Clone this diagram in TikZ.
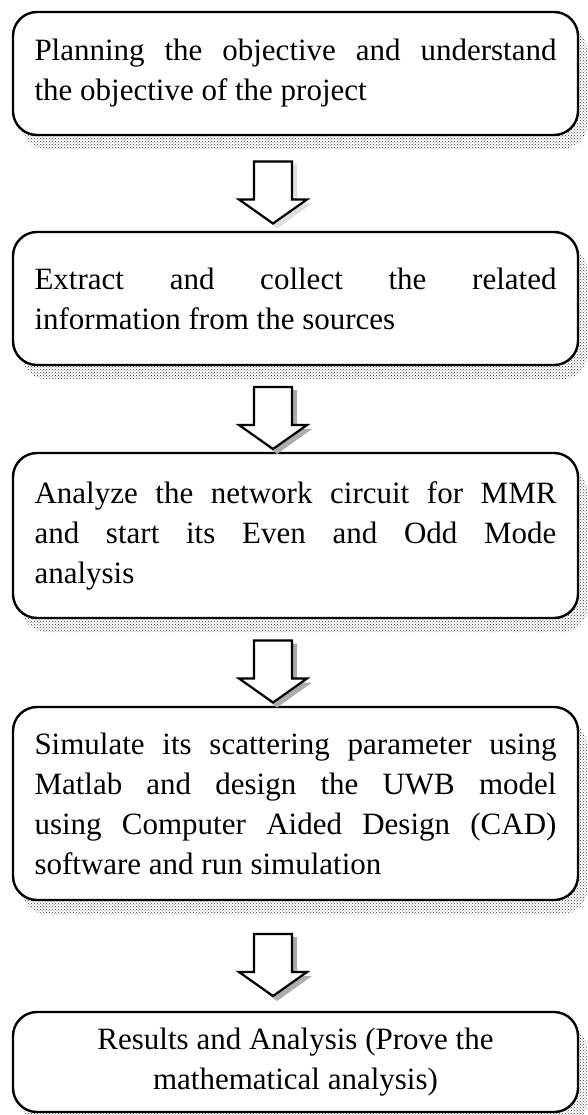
\documentclass[tikz,border=0pt]{standalone}
\usepackage{fontspec}
\setmainfont{Liberation Serif}
\usetikzlibrary{shadows,patterns,calc}
\newlength\stepw
\setlength\stepw{522pt}
% use the font's own (stretchable) interword space inside the boxes
\newcommand\fontspaces{\spaceskip=0pt\xspaceskip=0pt\relax}
% a justified line: spaces stretched to the full text width
\newcommand\fullline[1]{\makebox[\stepw][s]{#1}}
\tikzset{
  stepbox/.style={draw, line width=2.4pt, rounded corners=24pt, fill=white,
    minimum width=565pt, text width=\stepw, inner xsep=0pt, align=left,
    font=\fontsize{31}{40}\selectfont,
    drop shadow={shadow xshift=9pt, shadow yshift=-14pt, opacity=1,
      pattern=crosshatch dots, pattern color=black!75}},
  downarrow/.pic={
    \fill[#1]
      (-14,19) -- (24,19) -- (24,-20) -- (39,-20) -- (4,-45) -- (-30,-19) -- (-14,-19) -- cycle;
    \draw[line width=2.2pt, fill=white, line join=miter]
      (-19,22) -- (19,22) -- (19,-16) -- (34,-16) -- (0,-40) -- (-34,-16) -- (-19,-16) -- cycle;
  }
}
\begin{document}
\begin{tikzpicture}[x=1pt,y=1pt]
\useasboundingbox (0,0) rectangle (587,-1115);

\node[stepbox, minimum height=123pt] (b1) at (295.5,-73.5)
  {\fontspaces\fullline{Planning the objective and understand}\\the objective of the project};
\node[stepbox, minimum height=133pt] (b2) at (295.5,-298.5)
  {\fontspaces\fullline{Extract and collect the related}\\information from the sources};
\node[stepbox, minimum height=165pt] (b3) at (295.5,-535.5)
  {\fontspaces\fullline{Analyze the network circuit for MMR}\\\fullline{and start its Even and Odd Mode}\\analysis};
\node[stepbox, minimum height=193pt] (b4) at (295.5,-803.5)
  {\fontspaces\fullline{Simulate its scattering parameter using}\\\fullline{Matlab and design the UWB model}\\\fullline{using Computer Aided Design (CAD)}\\software and run simulation};
\node[stepbox, minimum height=100pt, align=center] (b5) at (295.5,-1062)
  {\fontspaces\mbox{Results and Analysis (Prove the}\\\mbox{mathematical analysis)}};

% block arrows between consecutive steps
\path (b1.south) -- coordinate (g1) (b2.north);
\path (b2.south) -- coordinate (g2) (b3.north);
\path (b3.south) -- coordinate (g3) (b4.north);
\path (b4.south) -- coordinate (g4) (b5.north);
\pic at ($(g1)+(-22.5,0)$) {downarrow={gray!25}};
\pic at ($(g2)+(-22.5,0)$) {downarrow={gray!65}};
\pic at ($(g3)+(-22.5,0)$) {downarrow={gray!65}};
\pic at ($(g4)+(-22.5,0)$) {downarrow={gray!65}};
\end{tikzpicture}
\end{document}
